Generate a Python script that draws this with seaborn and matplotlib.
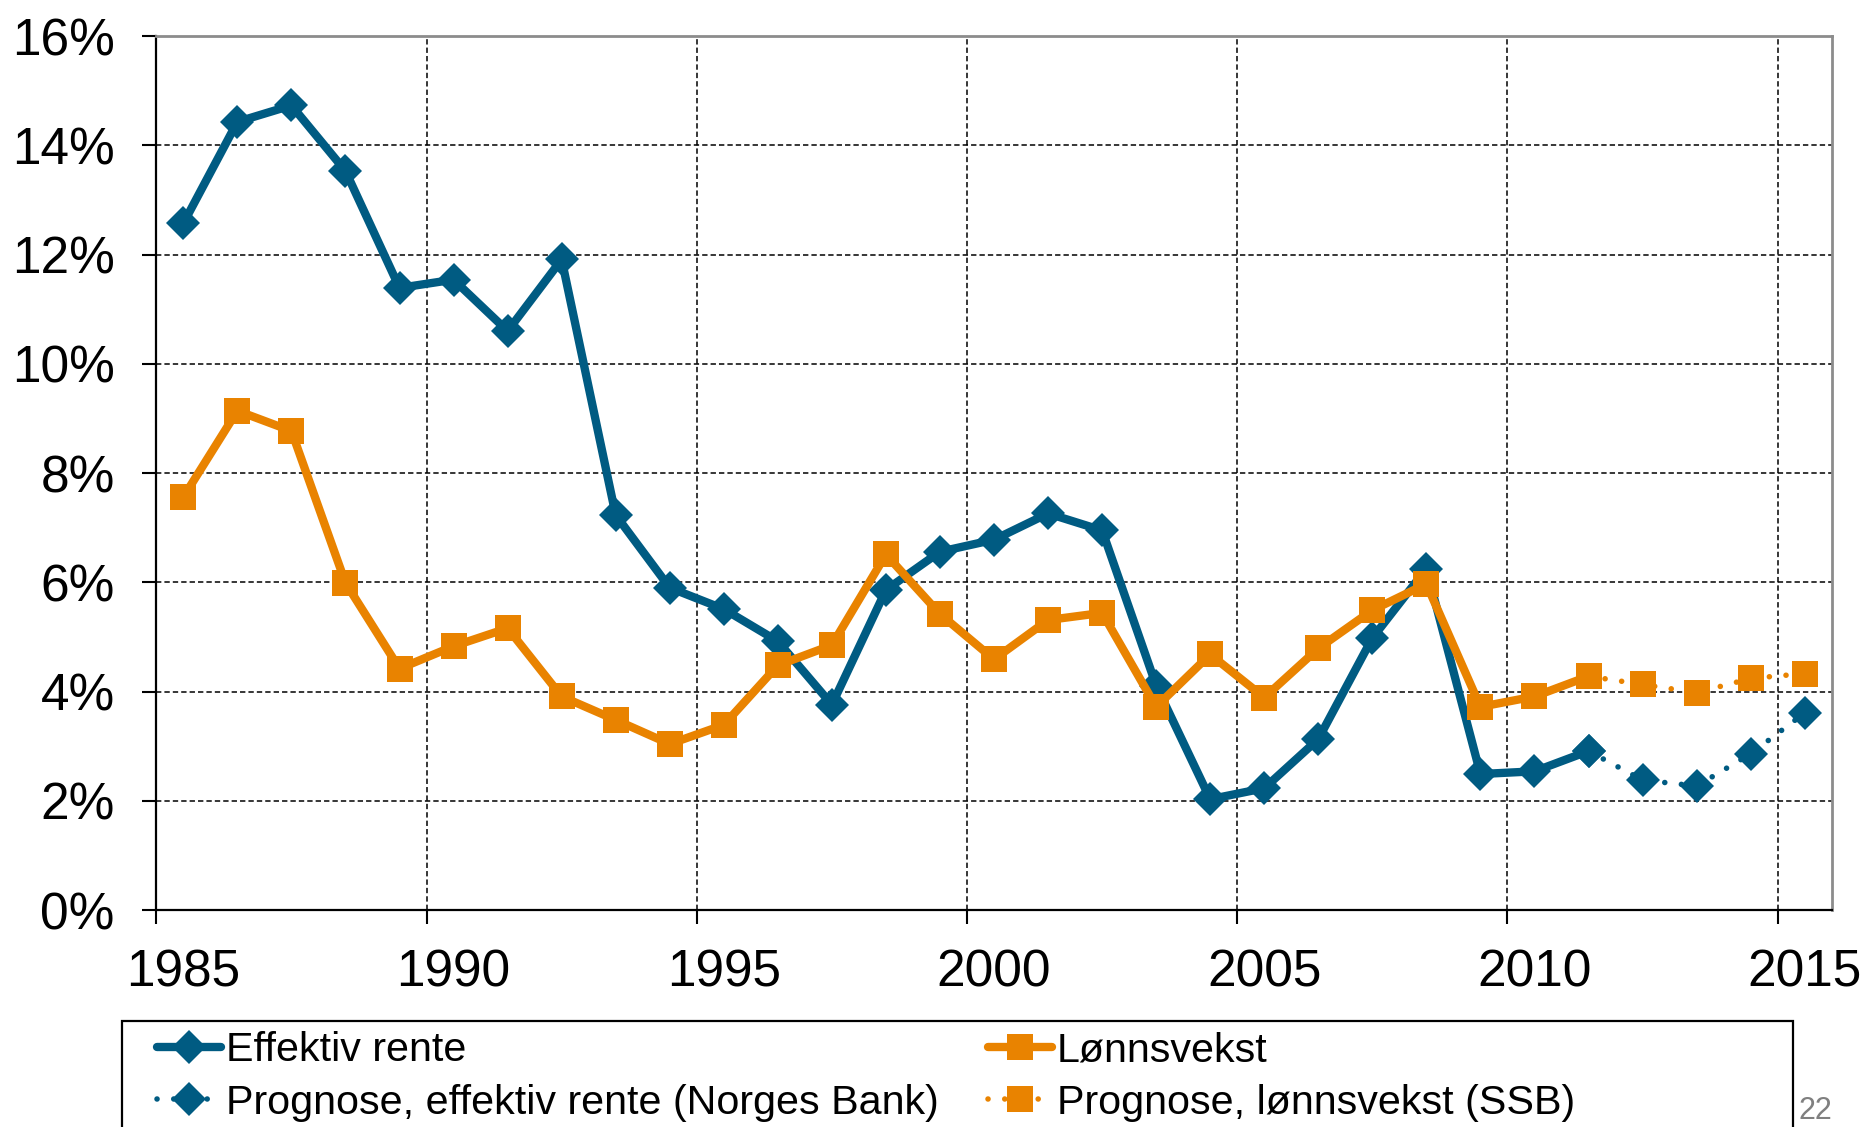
import numpy as np
import pandas as pd
import matplotlib
matplotlib.use('Agg')
import matplotlib.pyplot as plt
from matplotlib.patches import Rectangle
import seaborn as sns

# years are plotted at mid-year, like the original category axis
years = np.arange(1985, 2012)
rente = [12.57, 14.43, 14.73, 13.53, 11.39, 11.54, 10.60, 11.91, 7.23, 5.90,
         5.51, 4.92, 3.76, 5.86, 6.56, 6.78, 7.26, 6.95, 4.11, 2.03,
         2.23, 3.13, 4.98, 6.25, 2.49, 2.54, 2.91]
lonn = [7.56, 9.14, 8.77, 5.99, 4.42, 4.83, 5.16, 3.91, 3.48, 3.04,
        3.39, 4.48, 4.85, 6.51, 5.42, 4.59, 5.31, 5.44, 3.72, 4.68,
        3.89, 4.79, 5.49, 5.97, 3.72, 3.91, 4.28]
prog_years = np.arange(2011, 2016)
prog_rente = [2.91, 2.38, 2.27, 2.86, 3.61]
prog_lonn = [4.28, 4.13, 3.98, 4.24, 4.33]
tick_years = np.arange(1985, 2016, 5)

BLUE = '#005b82'
ORANGE = '#e98300'

sns.set_style('white')
plt.rcParams['font.family'] = ['Liberation Sans', 'DejaVu Sans']
plt.rcParams['text.color'] = 'black'
plt.rcParams['xtick.color'] = 'black'
plt.rcParams['ytick.color'] = 'black'

df = pd.DataFrame({'x': years + 0.5, 'rente': rente, 'lonn': lonn})
dp = pd.DataFrame({'x': prog_years + 0.5, 'rente': prog_rente, 'lonn': prog_lonn})

W, H = 1872, 1127
fig = plt.figure(figsize=(W / 100, H / 100), dpi=100)
ax = fig.add_axes([0.0835, 0.1925, 0.895, 0.7755])

solid = dict(lw=6.0, mew=0)
dotted = dict(lw=4.0, mew=0, linestyle=(0, (0.01, 3.0)), dash_capstyle='round')

sns.lineplot(data=dp, x='x', y='rente', ax=ax, color=BLUE, marker='D', ms=17,
             mec=BLUE, label='Prognose, effektiv rente (Norges Bank)', **dotted)
sns.lineplot(data=df, x='x', y='rente', ax=ax, color=BLUE, marker='D', ms=17,
             mec=BLUE, label='Effektiv rente', **solid)
sns.lineplot(data=dp, x='x', y='lonn', ax=ax, color=ORANGE, marker='s', ms=19,
             mec=ORANGE, label='Prognose, lønnsvekst (SSB)', **dotted)
sns.lineplot(data=df, x='x', y='lonn', ax=ax, color=ORANGE, marker='s', ms=19,
             mec=ORANGE, label='Lønnsvekst', **solid)

ax.set_xlim(1985, 2016)
ax.set_ylim(0, 16)
ax.set_xlabel('')
ax.set_ylabel('')

ax.set_yticks(np.arange(0, 17, 2))
ax.set_yticklabels([f'{v}%' for v in range(0, 17, 2)])
ax.set_xticks(tick_years)
ax.set_xticklabels([])
ax.set_xticks(tick_years + 0.5, minor=True)
ax.set_xticklabels([str(y) for y in tick_years], minor=True)

ax.tick_params(axis='y', which='major', direction='out', length=10, width=1.5,
               pad=20, labelsize=37, left=True)
ax.tick_params(axis='x', which='major', direction='out', length=10, width=1.5,
               bottom=True)
ax.tick_params(axis='x', which='minor', length=0, pad=28, labelsize=37)

ax.grid(True, which='major', color='black', linestyle=(0, (3.5, 2)), lw=1.1)
ax.set_axisbelow(True)

for side in ['left', 'bottom']:
    ax.spines[side].set_color('black')
    ax.spines[side].set_linewidth(1.6)
for side in ['top', 'right']:
    ax.spines[side].set_color('#8c8c8c')
    ax.spines[side].set_linewidth(2)

handles, labels = ax.get_legend_handles_labels()
order = [labels.index('Effektiv rente'),
         labels.index('Prognose, effektiv rente (Norges Bank)'),
         labels.index('Lønnsvekst'),
         labels.index('Prognose, lønnsvekst (SSB)')]
ax.get_legend().remove()
leg = fig.legend([handles[i] for i in order], [labels[i] for i in order],
                 loc='upper left', bbox_to_anchor=(157 / W, 1 - 1031 / H),
                 ncol=2, fontsize=29.7, frameon=False, handlelength=1.55,
                 handletextpad=0.12, labelspacing=0.36, columnspacing=1.2,
                 borderpad=0, borderaxespad=0)

# legend box as drawn in the original, wider than its content and cut off below
fig.patches.append(Rectangle((122 / W, -0.05), (1793 - 122) / W, 0.05 + 1 - 1021 / H,
                             transform=fig.transFigure, fill=False,
                             edgecolor='black', lw=1.6))

fig.text(1815 / W, 0.001, '22', color='#808080', fontsize=22, ha='center', va='bottom')

fig.savefig('out.png', dpi=100)
